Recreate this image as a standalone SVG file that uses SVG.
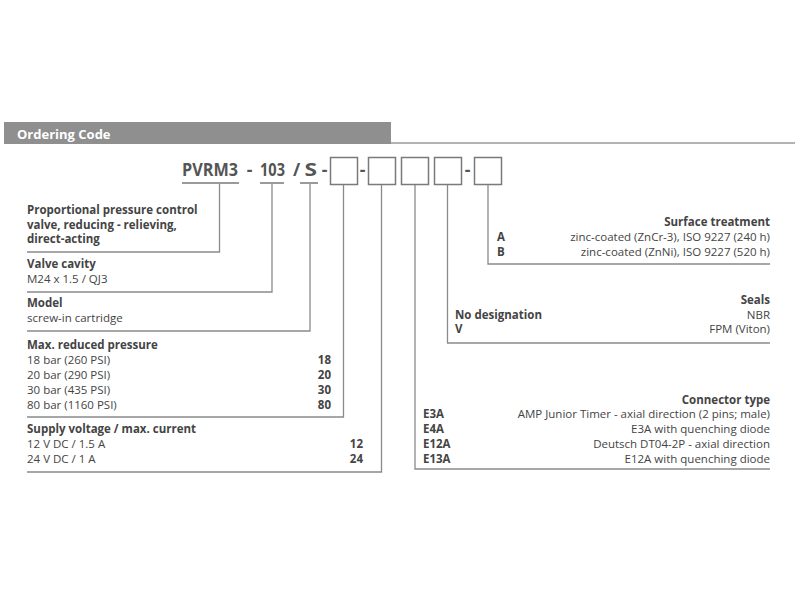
<svg xmlns="http://www.w3.org/2000/svg" width="800" height="600" viewBox="0 0 800 600">
<style>
text{font-family:"Open Sans","Liberation Sans",sans-serif;fill:#444;font-size:11.5px}
.b{font-weight:bold}
.r{text-anchor:end}
.m{text-anchor:middle}
.code{font-size:17.5px;font-weight:bold;fill:#555}
.hdr{fill:#fff;font-weight:bold;font-size:13px}
.con{fill:none;stroke:#8a8a8a;stroke-width:1.3}
.ul{fill:none;stroke:#7a7a7a;stroke-width:1.3}
.box{fill:#fff;stroke:#7a7a7a;stroke-width:1.5}
</style>
<rect width="800" height="600" fill="#fff"/>
<g id="header">
<line x1="4" y1="143" x2="795" y2="143" stroke="#b3b3b3" stroke-width="2"/>
<rect x="4" y="122" width="387" height="22" fill="#8f8f8f"/>
<text class="hdr" x="17" y="139">Ordering Code</text>
</g>
<g id="code">
<text class="code" x="182" y="176" textLength="56" lengthAdjust="spacingAndGlyphs">PVRM3</text>
<text class="code m" x="249.5" y="176">-</text>
<text class="code" x="260" y="176" textLength="25" lengthAdjust="spacingAndGlyphs">103</text>
<text class="code m" x="296.5" y="176">/</text>
<text class="code" x="304.5" y="176" textLength="12.5" lengthAdjust="spacingAndGlyphs">S</text>
<text class="code m" x="324.5" y="176">-</text>
<path class="ul" d="M182 183H239M260 183H284M300 183H318"/>
<rect class="box" x="330.5" y="157.5" width="27" height="27"/>
<text class="code m" x="362.5" y="176">-</text>
<rect class="box" x="368.5" y="157.5" width="27" height="27"/>
<rect class="box" x="401.5" y="157.5" width="27" height="27"/>
<rect class="box" x="434.5" y="157.5" width="27" height="27"/>
<text class="code m" x="467.5" y="176">-</text>
<rect class="box" x="474.5" y="157.5" width="27" height="27"/>
</g>
<g id="connectors">
<path class="con" d="M219.5 184V252H27"/>
<path class="con" d="M272 184V292H27"/>
<path class="con" d="M310 184V331H27"/>
<path class="con" d="M343.5 185V417H27"/>
<path class="con" d="M381.5 185V472H27"/>
<path class="con" d="M415 185V469H770"/>
<path class="con" d="M447.5 185V343H770"/>
<path class="con" d="M488 185V264H770"/>
</g>
<g id="type">
<text class="b" x="27" y="214">Proportional pressure control</text>
<text class="b" x="27" y="228.5">valve, reducing - relieving,</text>
<text class="b" x="27" y="243">direct-acting</text>
</g>
<g id="cavity">
<text class="b" x="27" y="268">Valve cavity</text>
<text x="27" y="283">M24 x 1.5 / QJ3</text>
</g>
<g id="model">
<text class="b" x="27" y="307">Model</text>
<text x="27" y="322">screw-in cartridge</text>
</g>
<g id="pressure">
<text class="b" x="27" y="348.5">Max. reduced pressure</text>
<text x="27" y="363.5">18 bar (260 PSI)</text>
<text x="27" y="378.5">20 bar (290 PSI)</text>
<text x="27" y="393.5">30 bar (435 PSI)</text>
<text x="27" y="408.5">80 bar (1160 PSI)</text>
<text class="b r" x="331" y="363.5">18</text>
<text class="b r" x="331" y="378.5">20</text>
<text class="b r" x="331" y="393.5">30</text>
<text class="b r" x="331" y="408.5">80</text>
</g>
<g id="voltage">
<text class="b" x="27" y="432.5">Supply voltage / max. current</text>
<text x="27" y="447.5">12 V DC / 1.5 A</text>
<text x="27" y="462.5">24 V DC / 1 A</text>
<text class="b r" x="363" y="447.5">12</text>
<text class="b r" x="363" y="462.5">24</text>
</g>
<g id="surface">
<text class="b r" x="770" y="226">Surface treatment</text>
<text class="b" x="497" y="241">A</text>
<text class="b" x="497" y="255.5">B</text>
<text class="r" x="770" y="241">zinc-coated (ZnCr-3), ISO 9227 (240 h)</text>
<text class="r" x="770" y="255.5">zinc-coated (ZnNi), ISO 9227 (520 h)</text>
</g>
<g id="seals">
<text class="b r" x="770" y="304">Seals</text>
<text class="b" x="455" y="318.5">No designation</text>
<text class="b" x="455" y="333">V</text>
<text class="r" x="770" y="318.5">NBR</text>
<text class="r" x="770" y="333">FPM (Viton)</text>
</g>
<g id="connector">
<text class="b r" x="770" y="403.5">Connector type</text>
<text class="b" x="423" y="418">E3A</text>
<text class="b" x="423" y="433">E4A</text>
<text class="b" x="423" y="448">E12A</text>
<text class="b" x="423" y="463">E13A</text>
<text class="r" x="770" y="418">AMP Junior Timer - axial direction (2 pins; male)</text>
<text class="r" x="770" y="433">E3A with quenching diode</text>
<text class="r" x="770" y="448">Deutsch DT04-2P - axial direction</text>
<text class="r" x="770" y="463">E12A with quenching diode</text>
</g>
</svg>
